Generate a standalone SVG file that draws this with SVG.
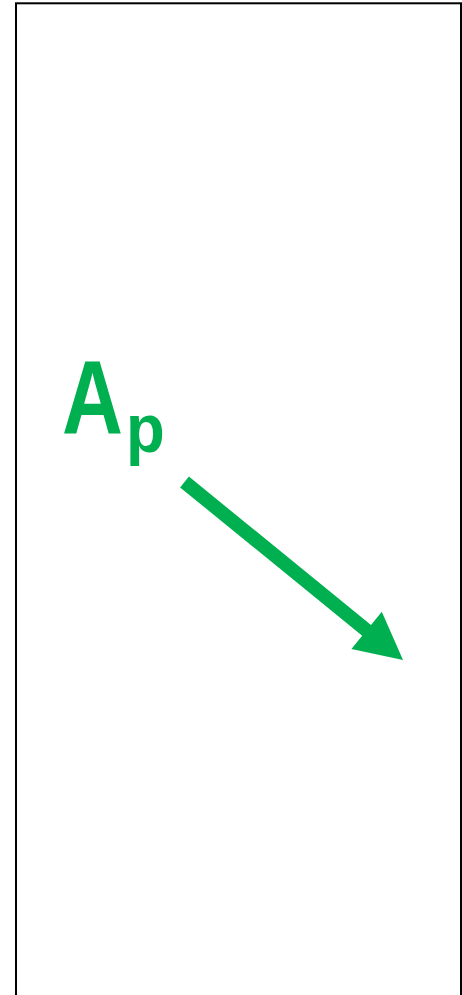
<svg xmlns="http://www.w3.org/2000/svg" width="462" height="995" viewBox="0 0 462 995">
  <style>
    .frame { fill: #ffffff; stroke: #000000; stroke-width: 2; }
    .green { fill: #00B050; }
    .lbl { font-family: "Liberation Sans", Arial, sans-serif; font-weight: bold; fill: #00B050; }
  </style>
  <rect width="462" height="995" fill="#ffffff"/>
  <g id="frame">
    <rect class="frame" x="16" y="3.3" width="445" height="1010"/>
  </g>
  <g id="label-Ap">
    <g transform="translate(62,432.5) scale(0.82,1)">
      <text class="lbl" x="0" y="0" font-size="103">A</text>
    </g>
    <g transform="translate(126,452) scale(0.92,1)">
      <text class="lbl" x="0" y="0" font-size="69">p</text>
    </g>
  </g>
  <g id="connectors">
    <polygon class="green" points="188.9,476.6 371,624.9 381.8,611.7 403,660 351.4,648.9 362.2,635.7 180.1,487.4"/>
  </g>
</svg>
